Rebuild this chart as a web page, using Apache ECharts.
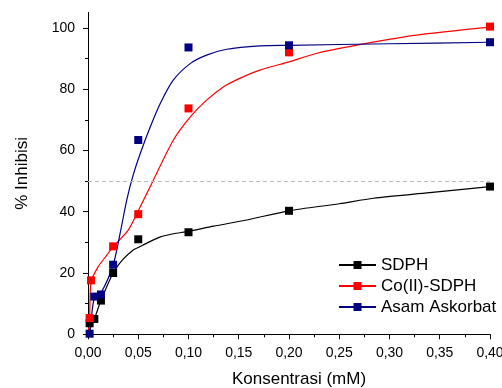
<!DOCTYPE html>
<html>
<head>
<meta charset="utf-8">
<script src="https://cdn.jsdelivr.net/npm/echarts@6/dist/echarts.min.js"></script>
<style>
  html, body { margin: 0; padding: 0; background: #fff; }
  #chart { width: 502px; height: 388px; }
</style>
</head>
<body>
<div id="chart"></div>
<script>
// measured points
const sdphX = [0.0016, 0.0063, 0.0129, 0.025, 0.05, 0.1, 0.2, 0.4];
const sdphY = [3.6, 5.0, 11.0, 20.0, 31.0, 33.3, 40.3, 48.2];
const coX = [0.0016, 0.003, 0.025, 0.05, 0.1, 0.2, 0.4];
const coY = [5.3, 17.6, 28.7, 39.2, 73.7, 92.0, 100.4];
const asamX = [0.0016, 0.0063, 0.0129, 0.025, 0.05, 0.1, 0.2, 0.4];
const asamY = [0.2, 12.3, 13.0, 22.7, 63.4, 93.6, 94.3, 95.3];

// fitted curves
const sdphFitX = [0, 0.0016, 0.0063, 0.0129, 0.025, 0.035, 0.045, 0.05, 0.06, 0.072, 0.085, 0.1, 0.125, 0.158, 0.2, 0.25, 0.284, 0.34, 0.4];
const sdphFitY = [0, 1.5, 5, 11, 20, 24.5, 27.5, 28.3, 30, 31.8, 32.8, 33.6, 35.3, 37.3, 40.3, 42.6, 44.4, 46.2, 48.2];
const coFitX = [0, 0.0016, 0.003, 0.01, 0.018, 0.025, 0.04, 0.052, 0.065, 0.085, 0.102, 0.118, 0.135, 0.151, 0.171, 0.2, 0.228, 0.277, 0.327, 0.4];
const coFitY = [0, 5.3, 17.0, 22, 25.5, 28.6, 34, 41.6, 50.3, 63.4, 71, 76.4, 80.8, 83.5, 86.2, 88.9, 91.7, 94.9, 97.6, 100.2];
const asamFitX = [0, 0.0016, 0.0063, 0.0129, 0.025, 0.032, 0.0387, 0.045, 0.052, 0.062, 0.072, 0.085, 0.102, 0.118, 0.138, 0.171, 0.2, 0.3, 0.4];
const asamFitY = [0, 0.5, 12, 13.5, 22.6, 33, 44, 52, 59, 67.7, 75.4, 83, 88.4, 91.1, 93, 94.1, 94.3, 94.8, 95.3];

const names = ['SDPH', 'Co(II)-SDPH', 'Asam Askorbat'];
const colors = ['#000000', '#ff0000', '#000080'];
const yTicks = [0, 20, 40, 60, 80, 100];
const yMinorTicks = [10, 30, 50, 70, 90];
const refLine = 50;

const zip = (xs, ys) => xs.map((x, i) => [x, ys[i]]);
const fits = [zip(sdphFitX, sdphFitY), zip(coFitX, coFitY), zip(asamFitX, asamFitY)];
const points = [zip(sdphX, sdphY), zip(coX, coY), zip(asamX, asamY)];

const font = 'Liberation Sans, Arial, sans-serif';

const curveSeries = names.map((name, i) => ({
  name,
  type: 'line',
  data: fits[i],
  smooth: 0.25,
  symbol: 'rect',
  showSymbol: false,
  lineStyle: { color: colors[i], width: 1.2 },
  itemStyle: { color: colors[i] },
  z: 2,
  silent: true,
  markLine: i === 0 ? {
    silent: true,
    symbol: ['none', 'none'],
    label: { show: false },
    lineStyle: { color: '#bbbbbb', type: [4, 3], width: 1 },
    data: [{ yAxis: refLine }],
  } : undefined,
}));

const pointSeries = names.map((name, i) => ({
  name: name + ' data',
  type: 'scatter',
  data: points[i],
  symbol: 'rect',
  symbolSize: 8,
  itemStyle: { color: colors[i], opacity: 1 },
  z: 3,
}));

const chart = echarts.init(document.getElementById('chart'));
chart.setOption({
  animation: false,
  textStyle: { fontFamily: font },
  grid: { left: 88, right: 12, top: 12.5, bottom: 53.7, outerBoundsMode: 'none' },
  legend: {
    data: names,
    orient: 'vertical',
    left: 333,
    top: 251.5,
    itemWidth: 37,
    itemHeight: 10,
    itemGap: 4,
    textStyle: { fontSize: 17, lineHeight: 17, color: '#000', fontFamily: font },
  },
  xAxis: {
    type: 'value',
    min: 0,
    max: 0.4,
    interval: 0.05,
    name: 'Konsentrasi (mM)',
    nameLocation: 'middle',
    nameGap: 37,
    nameTextStyle: { fontSize: 17, color: '#000', padding: [0, 0, 0, 20] },
    axisLine: { lineStyle: { color: '#000', width: 1 } },
    axisTick: { length: 5, lineStyle: { color: '#000' } },
    minorTick: { show: true, splitNumber: 2, length: 3, lineStyle: { color: '#000' } },
    splitLine: { show: false },
    axisLabel: {
      fontSize: 14,
      color: '#000',
      margin: 12,
      formatter: v => v.toFixed(2).replace('.', ','),
    },
  },
  yAxis: [
    {
      type: 'value',
      min: 0,
      max: 105,
      name: '% Inhibisi',
      nameLocation: 'middle',
      nameGap: 57,
      nameTextStyle: { fontSize: 17, color: '#000' },
      axisLine: { show: true, lineStyle: { color: '#000', width: 1 } },
      axisTick: { show: true, length: 5, customValues: yTicks, lineStyle: { color: '#000' } },
      axisLabel: { fontSize: 14, color: '#000', margin: 13, customValues: yTicks },
      splitLine: { show: false },
    },
    {
      type: 'value',
      min: 0,
      max: 105,
      position: 'left',
      axisLine: { show: false },
      axisTick: { show: true, length: 3, customValues: yMinorTicks, lineStyle: { color: '#000' } },
      axisLabel: { show: false },
      splitLine: { show: false },
    },
  ],
  series: [...curveSeries, ...pointSeries],
});
</script>
</body>
</html>
